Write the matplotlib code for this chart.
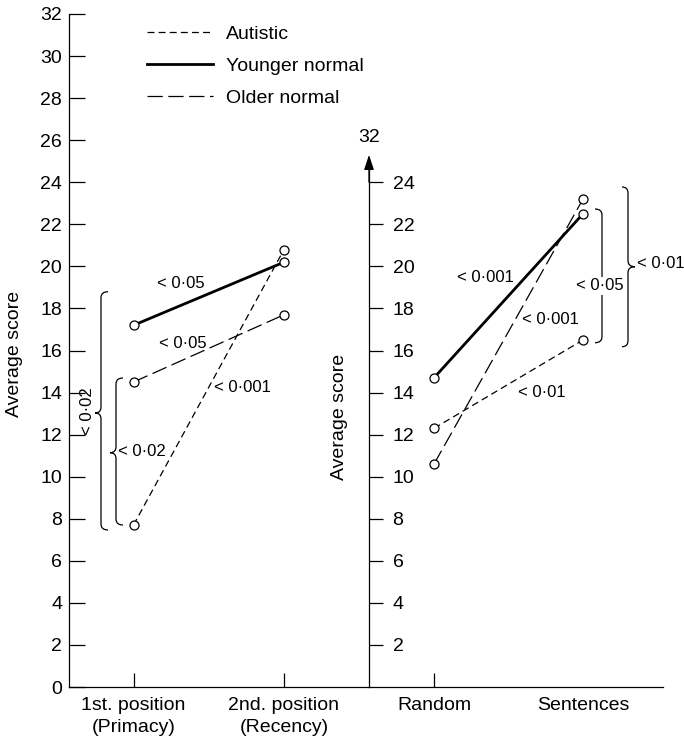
import matplotlib
matplotlib.use('Agg')
import matplotlib.pyplot as plt
from matplotlib.path import Path
from matplotlib.patches import PathPatch
from matplotlib.lines import Line2D
import matplotlib.transforms as mtrans

plt.rcParams['font.family'] = ['Liberation Sans', 'DejaVu Sans']
plt.rcParams['lines.scale_dashes'] = False

# ---------------- data ----------------
left_categories = ['1st. position\n(Primacy)', '2nd. position\n(Recency)']
right_categories = ['Random', 'Sentences']
series_names = ['Autistic', 'Younger normal', 'Older normal']
left_autistic = [7.7, 20.8]
left_younger = [17.2, 20.2]
left_older = [14.5, 17.7]
right_autistic = [12.3, 16.5]
right_younger = [14.7, 22.5]
right_older = [10.6, 23.2]
left_yticks = list(range(0, 33, 2))
right_yticks = list(range(2, 25, 2))

# ---------------- styles ----------------
W, H = 684, 742
FS = 14
AFS = 12
styles = {
    'Autistic': dict(color='k', lw=0.9, ls=(0, (5, 3))),
    'Younger normal': dict(color='k', lw=2.0, ls='-'),
    'Older normal': dict(color='k', lw=0.9, ls=(0, (11, 4))),
}
mk = dict(marker='o', ms=6.5, mfc='white', mec='k', mew=0.9)

fig = plt.figure(figsize=(W / 100, H / 100), dpi=100)


def fx(px):
    return px / W


def fy(py):
    return 1 - py / H


axL = fig.add_axes([fx(69), fy(687), fx(369) - fx(69), fy(14) - fy(687)])
axR = fig.add_axes([fx(369), fy(687), fx(663) - fx(369), fy(14) - fy(687)])

Lx0, Lscale = 133.5, 150.5
Rx0, Rscale = 434, 149
axL.set_xlim((69 - Lx0) / Lscale, (369 - Lx0) / Lscale)
axR.set_xlim((369 - Rx0) / Rscale, (663 - Rx0) / Rscale)
for ax in (axL, axR):
    ax.set_ylim(0, 32)
    ax.set_facecolor('none')
    ax.spines['top'].set_visible(False)
    ax.spines['right'].set_visible(False)
    for s in ('left', 'bottom'):
        ax.spines[s].set_linewidth(0.9)


def ypx(py):
    return (687 - py) / (673 / 32)


def lx(px):
    return (px - Lx0) / Lscale


def rx(px):
    return (px - Rx0) / Rscale


# ---------------- lines ----------------
xs = [0, 1]
for name, vals in zip(series_names, [left_autistic, left_younger, left_older]):
    axL.plot(xs, vals, **styles[name], **mk, clip_on=False, zorder=3)
for name, vals in zip(series_names, [right_autistic, right_younger, right_older]):
    axR.plot(xs, vals, **styles[name], **mk, clip_on=False, zorder=3)

# ---------------- axes ticks ----------------
axL.set_yticks(left_yticks)
axL.tick_params(axis='y', direction='in', length=11.5, width=0.9, pad=5, labelsize=FS)
axL.set_xticks(xs)
axL.set_xticklabels(left_categories)
axL.tick_params(axis='x', direction='in', length=10, width=0.9, pad=7, labelsize=FS)
for lab in axL.get_xticklabels():
    lab.set_linespacing(1.4)

axR.set_yticks(right_yticks)
axR.tick_params(axis='y', direction='in', length=10, width=0.9, pad=-17, labelsize=FS)
for lab in axR.get_yticklabels():
    lab.set_horizontalalignment('left')
axR.set_xticks(xs)
axR.set_xticklabels(right_categories)
axR.tick_params(axis='x', direction='in', length=10, width=0.9, pad=7, labelsize=FS)
axR.xaxis.get_major_ticks()[1].tick1line.set_visible(False)
axR.spines['left'].set_bounds(0, 25.1)

# arrow on right axis
trR = mtrans.blended_transform_factory(axR.transAxes, axR.transData)
axR.annotate('', xy=(0, 25.3), xycoords=trR, xytext=(0, 24.0), textcoords=trR,
             arrowprops=dict(arrowstyle='-|>,head_length=0.9,head_width=0.3',
                             color='k', lw=0.9, shrinkA=0, shrinkB=0))
axR.text(0, ypx(137), '32', transform=trR, ha='center', va='center', fontsize=FS)

# y labels
fig.text(fx(15), fy(354), 'Average score', rotation=90, ha='center', va='center', fontsize=FS)
fig.text(fx(340), fy(417), 'Average score', rotation=90, ha='center', va='center', fontsize=FS)


# ---------------- braces ----------------
def brace(ax, xmap, xl_px, hook_px, tip_px, top_py, bot_py, tip_py, r_px=6):
    xl, xh, xt = xmap(xl_px), xmap(hook_px), xmap(tip_px)
    yt, yb, yc = ypx(top_py), ypx(bot_py), ypx(tip_py)
    r = r_px / (673 / 32)
    verts = [(xh, yt), (xl, yt), (xl, yt - r), (xl, yc + r), (xl, yc), (xt, yc),
             (xl, yc), (xl, yc - r), (xl, yb + r), (xl, yb), (xh, yb)]
    codes = [Path.MOVETO, Path.CURVE3, Path.CURVE3, Path.LINETO, Path.CURVE3, Path.CURVE3,
             Path.CURVE3, Path.CURVE3, Path.LINETO, Path.CURVE3, Path.CURVE3]
    ax.add_patch(PathPatch(Path(verts, codes), fill=False, lw=0.9, ec='k', clip_on=False))


brace(axL, lx, 101, 108, 95, 291.7, 530, 413)
brace(axL, lx, 116, 123, 110, 378, 525, 452.7)
brace(axR, rx, 602, 595, 608, 209, 342.7, 286)
brace(axR, rx, 628, 622, 635, 187, 346.7, 266.7)


# ---------------- annotations ----------------
def note(ax, xmap, px, py, s, ha='center', **kw):
    ax.text(xmap(px), ypx(py), s, ha=ha, va='center', fontsize=AFS, clip_on=False, **kw)


note(axL, lx, 181, 283, '< 0·05')
note(axL, lx, 182.5, 343, '< 0·05')
note(axL, lx, 242, 387, '< 0·001')
note(axL, lx, 118, 452, '< 0·02', ha='left')
note(axL, lx, 88, 411, '< 0·02', rotation=90)

note(axR, rx, 485.5, 277.7, '< 0·001')
note(axR, rx, 550.5, 319, '< 0·001')
note(axR, rx, 541.5, 392.7, '< 0·01')
note(axR, rx, 599.5, 286, '< 0·05',
     bbox=dict(facecolor='white', edgecolor='none', pad=1), zorder=5)
note(axR, rx, 637, 264, '< 0·01', ha='left')

# ---------------- legend ----------------
handles = [Line2D([], [], **styles[n]) for n in series_names]
fig.legend(handles, series_names, loc='upper left', bbox_to_anchor=(fx(147), fy(25)),
           frameon=False, handlelength=3.4, handletextpad=0.68, labelspacing=0.74,
           fontsize=FS, borderpad=0, borderaxespad=0)

fig.savefig('out.png', dpi=100)
